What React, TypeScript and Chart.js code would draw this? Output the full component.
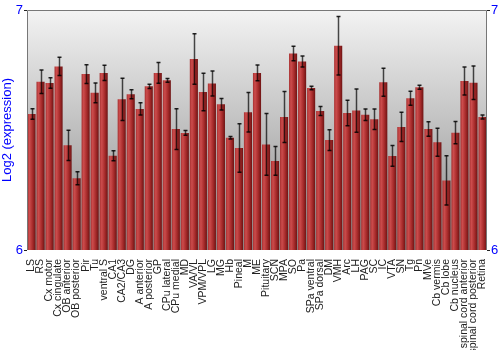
import React, { useEffect, useRef } from "react";
import { Chart, registerables } from "chart.js";

Chart.register(...registerables);

const categories = [
  "LS", "RS", "Cx motor", "Cx cingulate", "OB anterior", "OB posterior", "Pir", "Tu",
  "ventral S", "CA1", "CA2/CA3", "DG", "A anterior", "A posterior", "GP", "CPu lateral",
  "CPu medial", "MD", "VA/VL", "VPM/VPL", "LG", "MG", "Hb", "Pineal", "M", "ME",
  "Pituitary", "SCN", "MPA", "SO", "Pa", "SPa ventral", "SPa dorsal", "DM", "VMH", "Arc",
  "LH", "PAG", "SC", "IC", "VTA", "SN", "Tg", "Pn", "MVe", "Cb vermis", "Cb lobe",
  "Cb nucleus", "spinal cord anterior", "spinal cord posterior", "Retina",
];

const values = [
  6.567, 6.701, 6.696, 6.765, 6.436, 6.299, 6.733, 6.655, 6.738, 6.393, 6.628, 6.649,
  6.588, 6.682, 6.738, 6.707, 6.504, 6.488, 6.796, 6.658, 6.694, 6.607, 6.468, 6.425,
  6.574, 6.738, 6.44, 6.371, 6.554, 6.819, 6.785, 6.675, 6.579, 6.458, 6.851, 6.571,
  6.581, 6.564, 6.545, 6.699, 6.392, 6.513, 6.632, 6.678, 6.504, 6.449, 6.29, 6.489,
  6.704, 6.697, 6.554,
];

const errors = [
  0.022, 0.049, 0.022, 0.038, 0.063, 0.027, 0.039, 0.041, 0.032, 0.021, 0.088, 0.019,
  0.026, 0.009, 0.043, 0.008, 0.085, 0.01, 0.105, 0.078, 0.052, 0.024, 0.005, 0.101,
  0.082, 0.033, 0.129, 0.06, 0.106, 0.03, 0.023, 0.007, 0.019, 0.043, 0.122, 0.053,
  0.09, 0.024, 0.043, 0.058, 0.043, 0.061, 0.029, 0.008, 0.03, 0.058, 0.103, 0.046,
  0.058, 0.07, 0.008,
];

const yTicks = [6, 7];
const yTitle = "Log2 (expression)";

const bgPlugin = {
  id: "bgPlugin",
  beforeDatasetsDraw(chart: any) {
    const { ctx, chartArea: a } = chart;
    const g = ctx.createLinearGradient(0, a.top, 0, a.bottom);
    g.addColorStop(0, "#f3f3f3");
    g.addColorStop(1, "#8a8a8a");
    ctx.save();
    ctx.fillStyle = g;
    ctx.fillRect(a.left, a.top, a.right - a.left, a.bottom - a.top);
    ctx.restore();
  },
  afterDatasetsDraw(chart: any) {
    const { ctx, chartArea: a } = chart;
    const meta = chart.getDatasetMeta(0);
    const ys = chart.scales.y;
    ctx.save();
    meta.data.forEach((bar: any, i: number) => {
      const x = Math.round(bar.x) + 0.5;
      const t = ys.getPixelForValue(values[i] + errors[i]);
      const b = ys.getPixelForValue(values[i] - errors[i]);
      ctx.strokeStyle = "rgba(0,0,0,0.7)";
      ctx.lineWidth = 1.5;
      ctx.beginPath();
      ctx.moveTo(x, t);
      ctx.lineTo(x, b);
      ctx.stroke();
      ctx.strokeStyle = "rgba(0,0,0,0.85)";
      ctx.beginPath();
      ctx.moveTo(x - 2, t);
      ctx.lineTo(x + 2, t);
      ctx.moveTo(x - 2, b);
      ctx.lineTo(x + 2, b);
      ctx.stroke();
    });
    ctx.strokeStyle = "#777";
    ctx.lineWidth = 1;
    ctx.beginPath();
    ctx.moveTo(a.left + 0.5, a.bottom);
    ctx.lineTo(a.left + 0.5, a.top + 0.5);
    ctx.lineTo(a.right - 0.5, a.top + 0.5);
    ctx.lineTo(a.right - 0.5, a.bottom);
    ctx.stroke();
    ctx.restore();
  },
};

export default function App() {
  const ref = useRef<HTMLCanvasElement>(null);
  useEffect(() => {
    document.body.style.margin = "0";
    const font = { family: "'Liberation Sans', Arial, sans-serif" };
    const chart = new Chart(ref.current as HTMLCanvasElement, {
      type: "bar",
      data: {
        labels: categories,
        datasets: [
          {
            data: values,
            barPercentage: 0.9,
            categoryPercentage: 1.0,
            backgroundColor: (c: any) => {
              const ch = c.chart;
              const xs = ch.scales && ch.scales.x;
              if (!xs || c.dataIndex === undefined) return "#b03030";
              const cx = xs.getPixelForValue(c.dataIndex);
              if (!Number.isFinite(cx)) return "#b03030";
              const w = 8;
              const g = ch.ctx.createLinearGradient(cx - w / 2, 0, cx + w / 2, 0);
              g.addColorStop(0, "#a83232");
              g.addColorStop(0.25, "#cc4c4c");
              g.addColorStop(0.65, "#a62a2a");
              g.addColorStop(1, "#6e1414");
              return g;
            },
            borderWidth: 0,
          },
        ],
      },
      options: {
        animation: false,
        responsive: false,
        devicePixelRatio: 1,
        layout: { padding: { top: 10, left: 0, right: 0, bottom: 0 } },
        plugins: { legend: { display: false }, tooltip: { enabled: false } },
        scales: {
          x: {
            grid: { display: false },
            border: { display: false },
            ticks: {
              autoSkip: false,
              maxRotation: 90,
              minRotation: 90,
              padding: 1,
              color: "#222",
              font: { ...font, size: 10.5 },
            },
            afterFit: (s: any) => {
              s.height = 100;
            },
          },
          y: {
            min: 6,
            max: 7,
            afterBuildTicks: (s: any) => {
              s.ticks = yTicks.map((v) => ({ value: v }));
            },
            grid: { display: true, drawOnChartArea: false, drawTicks: true, tickLength: 3, color: "#222" },
            border: { display: false },
            title: {
              display: true,
              text: yTitle,
              color: "#0000ff",
              font: { ...font, size: 13 },
              padding: 0,
            },
            ticks: { color: "#0000ff", font: { ...font, size: 13 }, padding: 1 },
            afterFit: (s: any) => {
              s.width = 27;
            },
          },
          y2: {
            position: "right",
            min: 6,
            max: 7,
            afterBuildTicks: (s: any) => {
              s.ticks = yTicks.map((v) => ({ value: v }));
            },
            grid: { display: true, drawOnChartArea: false, drawTicks: true, tickLength: 3, color: "#222" },
            border: { display: false },
            ticks: { color: "#0000ff", font: { ...font, size: 13 }, padding: 1 },
            afterFit: (s: any) => {
              s.width = 13;
            },
          },
        },
      },
      plugins: [bgPlugin],
    });
    return () => chart.destroy();
  }, []);
  return <canvas ref={ref} width={500} height={350} style={{ display: "block" }} />;
}
